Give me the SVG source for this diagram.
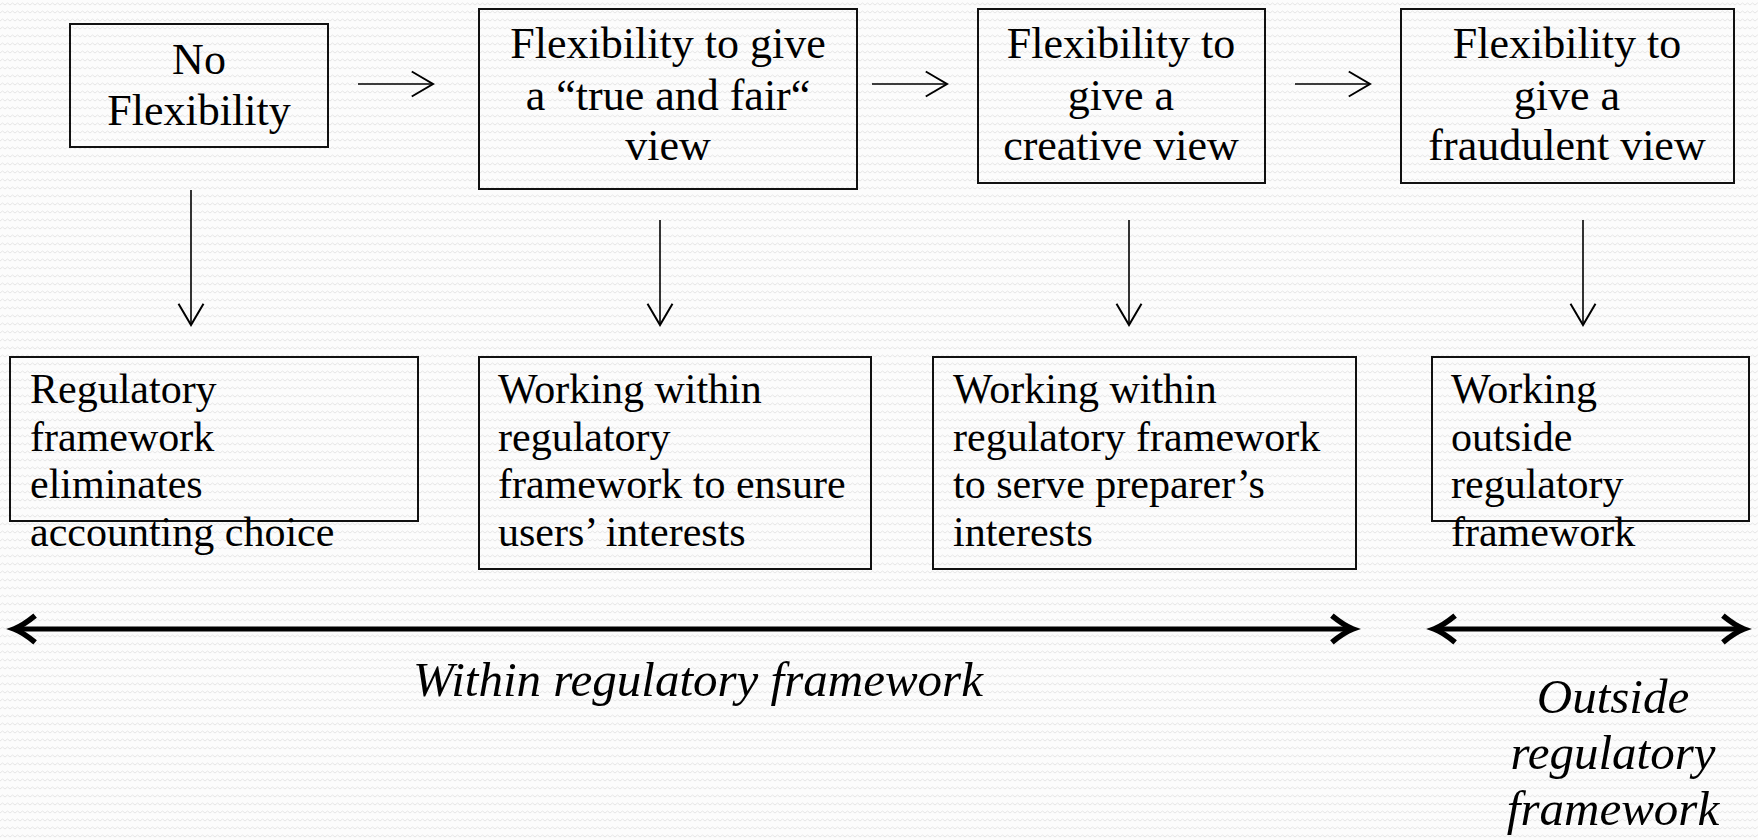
<svg xmlns="http://www.w3.org/2000/svg" width="1758" height="840" viewBox="0 0 1758 840">
<style>
.box{fill:none;stroke:#111;stroke-width:2}
.t{font-family:"Liberation Serif","Times New Roman",serif;font-size:44px;fill:#000;text-anchor:middle}
.b{font-family:"Liberation Serif","Times New Roman",serif;font-size:42px;fill:#000}
.i{font-family:"Liberation Serif","Times New Roman",serif;font-size:49px;font-style:italic;fill:#000;text-anchor:middle}
.thin{stroke:#000;stroke-width:1.6;fill:none;marker-end:url(#open)}
.thick{stroke:#000;stroke-width:5;fill:none;marker-start:url(#bigS);marker-end:url(#bigE)}
</style>
<defs>
<pattern id="bg" width="10" height="8" patternUnits="userSpaceOnUse">
<rect width="10" height="8" fill="#fcfcfc"/>
<path d="M0,5 L2.5,3 L5,5 L7.5,3 L10,5" fill="none" stroke="#e6e6e6" stroke-width="1"/>
</pattern>
<marker id="open" markerUnits="userSpaceOnUse" markerWidth="30" markerHeight="30" viewBox="-20 -12 22 24" refX="0" refY="0" orient="auto">
<path d="M-17,-10 L0,0 L-17,10" fill="none" stroke="#000" stroke-width="1.6"/>
</marker>
<marker id="bigE" markerUnits="userSpaceOnUse" markerWidth="40" markerHeight="40" viewBox="-26 -18 30 36" refX="0" refY="0" orient="auto">
<path d="M-19,-12 Q-8,-3 0,0 Q-8,3 -19,12" fill="none" stroke="#000" stroke-width="5" stroke-linejoin="miter"/>
</marker>
<marker id="bigS" markerUnits="userSpaceOnUse" markerWidth="40" markerHeight="40" viewBox="-26 -18 30 36" refX="0" refY="0" orient="auto-start-reverse">
<path d="M-19,-12 Q-8,-3 0,0 Q-8,3 -19,12" fill="none" stroke="#000" stroke-width="5" stroke-linejoin="miter"/>
</marker>
</defs>
<rect width="1758" height="840" fill="url(#bg)"/>

<g id="node-no-flex">
<rect class="box" x="70" y="24" width="258" height="123"/>
<text class="t" x="199" y="74">No</text>
<text class="t" x="199" y="125">Flexibility</text>
</g>
<g id="node-true-fair">
<rect class="box" x="479" y="9" width="378" height="180"/>
<text class="t" x="668" y="58">Flexibility to give</text>
<text class="t" x="668" y="110">a “true and fair“</text>
<text class="t" x="668" y="160">view</text>
</g>
<g id="node-creative">
<rect class="box" x="978" y="9" width="287" height="174"/>
<text class="t" x="1121" y="58">Flexibility to</text>
<text class="t" x="1121" y="110">give a</text>
<text class="t" x="1121" y="160">creative view</text>
</g>
<g id="node-fraudulent">
<rect class="box" x="1401" y="9" width="333" height="174"/>
<text class="t" x="1567" y="58">Flexibility to</text>
<text class="t" x="1567" y="110">give a</text>
<text class="t" x="1567" y="160">fraudulent view</text>
</g>

<g id="node-eliminates">
<rect class="box" x="10" y="357" width="408" height="164"/>
<text class="b" x="30" y="403">Regulatory</text>
<text class="b" x="30" y="451">framework</text>
<text class="b" x="30" y="498">eliminates</text>
<text class="b" x="30" y="546">accounting choice</text>
</g>
<g id="node-users">
<rect class="box" x="479" y="357" width="392" height="212"/>
<text class="b" x="498" y="403">Working within</text>
<text class="b" x="498" y="451">regulatory</text>
<text class="b" x="498" y="498">framework to ensure</text>
<text class="b" x="498" y="546">users’ interests</text>
</g>
<g id="node-preparer">
<rect class="box" x="933" y="357" width="423" height="212"/>
<text class="b" x="953" y="403">Working within</text>
<text class="b" x="953" y="451">regulatory framework</text>
<text class="b" x="953" y="498">to serve preparer’s</text>
<text class="b" x="953" y="546">interests</text>
</g>
<g id="node-outside">
<rect class="box" x="1432" y="357" width="317" height="164"/>
<text class="b" x="1451" y="403">Working</text>
<text class="b" x="1451" y="451">outside</text>
<text class="b" x="1451" y="498">regulatory</text>
<text class="b" x="1451" y="546">framework</text>
</g>

<g id="connectors">
<line class="thin" x1="358" y1="84" x2="433" y2="84"/>
<line class="thin" x1="872" y1="84" x2="947" y2="84"/>
<line class="thin" x1="1295" y1="84" x2="1370" y2="84"/>
<line class="thin" x1="191" y1="190" x2="191" y2="325"/>
<line class="thin" x1="660" y1="220" x2="660" y2="325"/>
<line class="thin" x1="1129" y1="220" x2="1129" y2="325"/>
<line class="thin" x1="1583" y1="220" x2="1583" y2="325"/>
<line class="thick" x1="14" y1="629" x2="1353" y2="629"/>
<line class="thick" x1="1434" y1="629" x2="1744" y2="629"/>
</g>

<g id="labels">
<text class="i" x="698" y="696">Within regulatory framework</text>
<text class="i" x="1613" y="713">Outside</text>
<text class="i" x="1613" y="769">regulatory</text>
<text class="i" x="1613" y="825">framework</text>
</g>
</svg>
